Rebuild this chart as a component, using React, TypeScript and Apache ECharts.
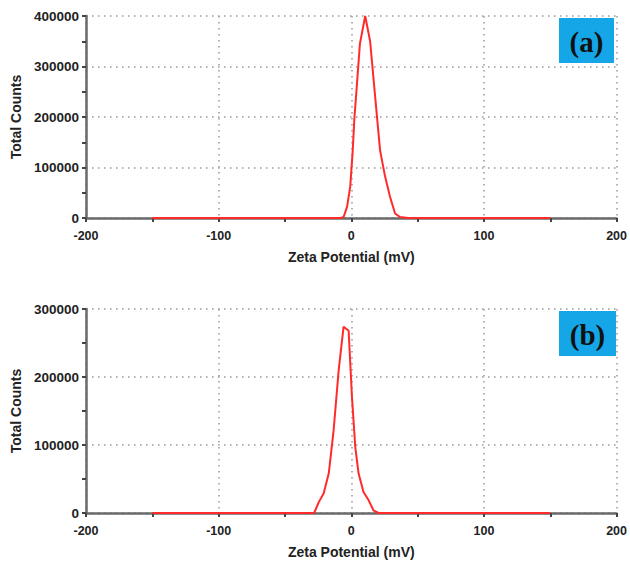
import React, { useEffect, useRef } from "react";
import * as echarts from "echarts";

const zetaA = [-150, -8, -5.8, -3.2, -0.8, 1, 2.4, 4.2, 6.5, 10.5, 14.2, 18, 21.7, 25.5, 29.2, 33, 36.7, 43, 150];
const countsA = [0, 0, 2000, 22000, 62000, 130000, 200000, 262000, 345000, 400000, 350000, 240000, 134000, 82000, 42000, 9000, 2000, 0, 0];

const zetaB = [-150, -28, -24.5, -20.8, -17, -13.3, -9.5, -5.8, -2, 0.5, 3, 5.5, 9.2, 13, 16.7, 20.5, 150];
const countsB = [0, 0, 16000, 29000, 58000, 122000, 210000, 274000, 268000, 171000, 97000, 58000, 31000, 19000, 4000, 0, 0];

const xTicks = [-200, -100, 0, 100, 200];
const yMaxA = 400000;
const yMaxB = 300000;
const panelLabels = ["(a)", "(b)"];
const xName = "Zeta Potential (mV)";
const yName = "Total Counts";

export default function App() {
  const ref = useRef<HTMLDivElement>(null);
  useEffect(() => {
    if (!ref.current) return;
    const chart = echarts.init(ref.current, null, { renderer: "svg" });
    const axisColor = "#6a6a6a";
    const font = "Liberation Sans, Arial, Helvetica";
    const txt = "#222";
    const splitStyle = { show: true, lineStyle: { color: "#999", width: 1.5, type: [1.5, 4.5] as any } };
    const mkX = (gi: number) => ({
      type: "value",
      gridIndex: gi,
      min: xTicks[0],
      max: xTicks[xTicks.length - 1],
      interval: 100,
      name: xName,
      nameLocation: "middle",
      nameGap: 32,
      nameTextStyle: { fontFamily: font, fontSize: 14, fontWeight: "bold", color: txt },
      axisLine: { show: true, onZero: false, lineStyle: { color: axisColor, width: 2.5 } },
      axisTick: { show: true, length: 4, lineStyle: { color: "#444", width: 2 } },
      minorTick: { show: true, splitNumber: 2, length: 4, lineStyle: { color: "#444", width: 2 } },
      axisLabel: { fontFamily: font, fontSize: 12.5, fontWeight: "bold", color: txt, margin: 11 },
      splitLine: splitStyle,
    });
    const mkY = (gi: number, max: number) => ({
      type: "value",
      gridIndex: gi,
      min: 0,
      max,
      interval: 100000,
      name: yName,
      nameLocation: "middle",
      nameGap: 59,
      nameTextStyle: { fontFamily: font, fontSize: 14, fontWeight: "bold", color: txt },
      axisLine: { show: true, onZero: false, lineStyle: { color: axisColor, width: 2.5 } },
      axisTick: { show: true, length: 4, lineStyle: { color: "#444", width: 2 } },
      minorTick: { show: true, splitNumber: 2, length: 4, lineStyle: { color: "#444", width: 2 } },
      axisLabel: { fontFamily: font, fontSize: 13.5, fontWeight: "bold", color: txt, margin: 7, formatter: (v: number) => String(v) },
      splitLine: splitStyle,
    });
    const boxes = [
      { x: 559, y: 18, w: 55, h: 45 },
      { x: 559, y: 311, w: 57, h: 45 },
    ];
    chart.setOption({
      animation: false,
      backgroundColor: "#fff",
      grid: [
        { left: 86, right: 10, top: 16, height: 202 },
        { left: 86, right: 10, top: 309, height: 204 },
      ],
      xAxis: [mkX(0), mkX(1)],
      yAxis: [mkY(0, yMaxA), mkY(1, yMaxB)],
      series: [
        {
          type: "line",
          xAxisIndex: 0,
          yAxisIndex: 0,
          data: zetaA.map((x, i) => [x, countsA[i]]),
          showSymbol: false,
          lineStyle: { color: "#ff2b2b", width: 2 },
          itemStyle: { color: "#ff2b2b" },
        },
        {
          type: "line",
          xAxisIndex: 1,
          yAxisIndex: 1,
          data: zetaB.map((x, i) => [x, countsB[i]]),
          showSymbol: false,
          lineStyle: { color: "#ff2b2b", width: 2 },
          itemStyle: { color: "#ff2b2b" },
        },
      ],
      graphic: boxes.flatMap((b, i) => [
        { type: "rect", shape: { x: b.x, y: b.y, width: b.w, height: b.h }, style: { fill: "#14a6e6" }, z: 10 },
        {
          type: "text",
          x: b.x + b.w / 2,
          y: b.y + b.h / 2 + 1,
          style: {
            text: panelLabels[i],
            fontFamily: "Liberation Serif, Times New Roman, serif",
            fontWeight: "bold",
            fontSize: 29,
            fill: "#111",
            textAlign: "center",
            textVerticalAlign: "middle",
          },
          z: 11,
        },
      ]),
    });
    return () => chart.dispose();
  }, []);
  return <div ref={ref} style={{ position: "fixed", left: 0, top: 0, width: 630, height: 562, background: "#fff" }} />;
}
